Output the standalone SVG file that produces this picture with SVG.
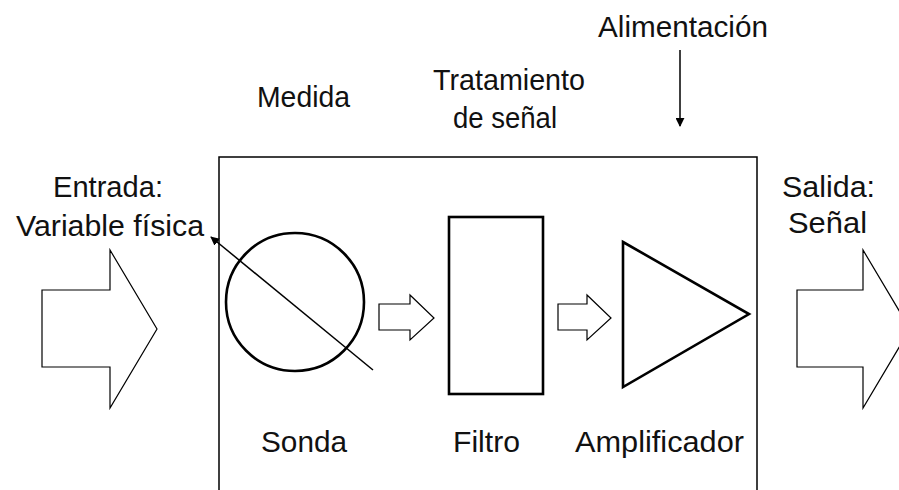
<svg xmlns="http://www.w3.org/2000/svg" width="899" height="490" viewBox="0 0 899 490">
  <style>
    text { font-family: "Liberation Sans", Arial, sans-serif; font-size: 30px; fill: #111; }
    .thin { fill: #fff; stroke: #000; stroke-width: 1.2; }
    .thick { fill: #fff; stroke: #000; stroke-width: 2.6; }
    .line { fill: none; stroke: #000; stroke-width: 1.5; }
  </style>
  <defs>
    <marker id="head" viewBox="0 0 10 10" refX="9" refY="5" markerWidth="6" markerHeight="6" orient="auto" markerUnits="strokeWidth">
      <path d="M0,0 L10,5 L0,10 Z" fill="#000"/>
    </marker>
  </defs>
  <rect width="899" height="490" fill="#fff"/>

  <g id="sistema">
    <path d="M219,492 V157 H757 V492" class="line" stroke-width="1.3"/>
  </g>

  <g id="labels">
    <text x="598" y="37" textLength="170" lengthAdjust="spacingAndGlyphs">Alimentación</text>
    <text x="257" y="107" textLength="93" lengthAdjust="spacingAndGlyphs">Medida</text>
    <text x="433" y="90" textLength="152" lengthAdjust="spacingAndGlyphs">Tratamiento</text>
    <text x="453" y="128" textLength="104" lengthAdjust="spacingAndGlyphs">de señal</text>
    <text x="53" y="197" textLength="110" lengthAdjust="spacingAndGlyphs">Entrada:</text>
    <text x="16" y="236" textLength="188" lengthAdjust="spacingAndGlyphs">Variable física</text>
    <text x="782" y="197" textLength="93" lengthAdjust="spacingAndGlyphs">Salida:</text>
    <text x="788" y="233" textLength="79" lengthAdjust="spacingAndGlyphs">Señal</text>
  </g>

  <g id="sonda">
    <circle cx="295" cy="302" r="69" class="thick"/>
    <line x1="373" y1="370" x2="211" y2="237" class="line" marker-end="url(#head)"/>
    <text x="261" y="452" textLength="86" lengthAdjust="spacingAndGlyphs">Sonda</text>
  </g>

  <g id="filtro">
    <rect x="449" y="217" width="94" height="177" class="thick"/>
    <text x="453" y="452" textLength="67" lengthAdjust="spacingAndGlyphs">Filtro</text>
  </g>

  <g id="amplificador">
    <polygon points="623,242 749,314 623,387" class="thick" stroke-linejoin="miter"/>
    <text x="575" y="452" textLength="169" lengthAdjust="spacingAndGlyphs">Amplificador</text>
  </g>

  <g id="connectors">
    <polygon id="entrada" points="42,290 110,290 110,250 157,329 110,408 110,367 42,367" class="thin"/>
    <polygon id="salida" points="797,290 863,290 863,250 910,329 863,408 863,367 797,367" class="thin"/>
    <polygon id="sonda-filtro" points="379,304 410,304 410,295 434,318 410,340 410,330 379,330" class="thin"/>
    <polygon id="filtro-amplificador" points="558,304 587,304 587,295 611,318 587,340 587,330 558,330" class="thin"/>
    <line id="alimentacion" x1="680" y1="50" x2="680" y2="126" class="line" marker-end="url(#head)"/>
  </g>
</svg>
